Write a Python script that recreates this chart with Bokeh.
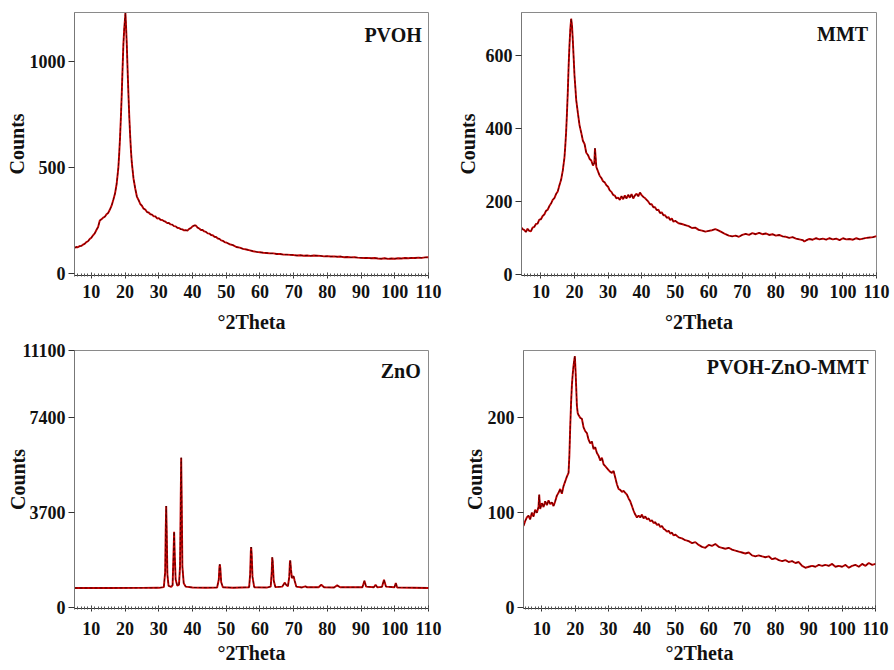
from bokeh.plotting import figure
from bokeh.layouts import column, row
from bokeh.models import Range1d, FixedTicker, SingleIntervalTicker, Label
from bokeh.embed import file_html
from bokeh.resources import INLINE

# ---------------- data ----------------
pvoh_2theta = [5, 5.5, 6, 6.5, 7, 7.5, 8, 8.5, 9, 9.5, 10, 10.5, 11, 11.5, 12, 12.5, 13, 13.5, 14, 14.5,
               15, 15.5, 16, 16.5, 17, 17.5, 18, 18.25, 18.5, 18.75, 19, 19.25, 19.5, 19.75, 20, 20.1,
               20.25, 20.5, 20.75, 21, 21.25, 21.5, 21.75, 22, 22.5, 23, 23.5, 24, 24.5, 25, 25.5, 26,
               26.5, 27, 27.5, 28, 28.5, 29, 29.5, 30, 30.5, 31, 31.5, 32, 32.5, 33, 33.5, 34, 34.5, 35,
               35.5, 36, 36.5, 37, 37.5, 38, 38.5, 39, 39.5, 40, 40.5, 41, 41.5, 42, 42.5, 43, 43.5, 44,
               44.5, 45, 45.5, 46, 46.5, 47, 47.5, 48, 48.5, 49, 49.5, 50, 51, 52, 53, 54, 55, 56, 57,
               58, 59, 60, 61, 62, 63, 64, 65, 66, 67, 68, 69, 70, 71, 72, 73, 74, 75, 76, 77, 78, 79,
               80, 81, 82, 83, 84, 85, 86, 87, 88, 89, 90, 91, 92, 93, 94, 95, 96, 97, 98, 99, 100, 101,
               102, 103, 104, 105, 106, 107, 108, 109, 110]
pvoh_counts = [122, 126, 125, 130, 131, 137, 141, 149, 153, 163, 169, 181, 190, 206, 220, 250, 256, 264, 268, 280,
               286, 302, 320, 347, 376, 422, 498, 562, 638, 732, 838, 962, 1078, 1152, 1202, 1225,
               1178, 1082, 958, 842, 738, 652, 578, 522, 448, 402, 363, 347, 328, 320, 306, 302,
               290, 288, 280, 278, 270, 270, 260, 262, 254, 253, 248, 245, 238, 239, 232, 231, 224, 223,
               216, 215, 210, 209, 204, 205, 203, 211, 215, 223, 227, 227, 217, 213, 206, 206, 199, 197,
               190, 189, 182, 181, 174, 173, 166, 164, 157, 155, 149, 147, 139, 135, 126, 123, 117, 114, 110,
               106, 103, 101, 99, 98, 96, 96, 93, 93, 90, 90, 89, 88, 86, 87, 85, 86, 84, 86, 85, 84, 82,
               83, 81, 82, 80, 81, 78, 79, 77, 78, 76, 75, 74, 75, 73, 74, 72, 71, 73, 70, 72, 71, 73,
               72, 74, 73, 75, 74, 76, 75, 77, 78]

mmt_2theta = [4.2, 4.5, 5, 5.5, 6, 6.5, 7, 7.5, 8, 8.5,
              9, 9.5, 10, 10.5, 11, 11.5, 12, 12.5, 13, 13.5,
              14, 14.5, 15, 15.5, 16, 16.5, 17, 17.25, 17.5, 17.75,
              18, 18.25, 18.5, 18.75, 19, 19.25, 19.5, 19.75, 20, 20.25,
              20.5, 21, 21.5, 22, 22.5, 23, 23.5, 24, 24.5, 25,
              25.5, 25.9, 26.1, 26.5, 27, 27.5, 28, 28.5, 29, 29.5,
              30, 30.5, 31, 31.5, 32, 32.5, 33, 33.5, 34, 34.5,
              35, 35.5, 36, 36.5, 37, 37.5, 38, 38.5, 39, 39.5,
              40, 40.5, 41, 41.5, 42, 42.5, 43, 43.5, 44, 44.5,
              45, 45.5, 46, 46.5, 47, 47.5, 48, 48.5, 49, 49.5,
              50, 51, 52, 53, 54, 55, 56, 57, 58, 59,
              60, 61, 62, 63, 64, 65, 66, 67, 68, 69,
              70, 71, 72, 73, 74, 75, 76, 77, 78, 79,
              80, 81, 82, 83, 84, 85, 86, 87, 88, 88.5,
              89, 90, 91, 92, 93, 94, 95, 96, 97, 98,
              99, 100, 101, 102, 103, 104, 105, 106, 107, 108,
              109, 110]
mmt_counts = [128, 124, 122, 116, 125, 119, 118, 128, 130, 138,
              139, 150, 151, 160, 164, 174, 177, 187, 194, 204,
              209, 220, 227, 244, 259, 284, 320, 352, 390, 442,
              500, 572, 628, 672, 700, 682, 640, 592, 544, 512,
              478, 442, 408, 388, 366, 357, 333, 327, 316, 312,
              298, 305, 345, 294, 282, 270, 264, 255, 252, 244,
              240, 230, 226, 218, 216, 208, 210, 204, 214, 206,
              216, 208, 218, 210, 220, 208, 216, 221, 214, 224,
              217, 212, 209, 204, 199, 192, 192, 184, 184, 176,
              177, 168, 170, 162, 162, 155, 157, 149, 153, 144,
              147, 140, 138, 135, 132, 127, 128, 122, 120, 117,
              119, 121, 124, 120, 115, 110, 106, 104, 106, 103,
              108, 111, 108, 113, 110, 114, 110, 112, 108, 110,
              106, 108, 104, 103, 100, 102, 98, 96, 94, 90,
              93, 97, 95, 99, 96, 98, 95, 99, 96, 98,
              94, 99, 96, 97, 95, 99, 96, 98, 100, 101,
              102, 105]

zno_2theta = [5, 15, 25, 30, 31.5, 31.9, 32.05, 32.2, 32.35, 32.55,
              32.9, 33.7, 34.1, 34.35, 34.55, 34.75, 35.0, 35.5, 36.0, 36.3,
              36.5, 36.65, 36.8, 37.0, 37.4, 38.0, 40, 44, 47.3, 47.8,
              48.0, 48.1, 48.25, 48.5, 49, 52, 56.8, 57.1, 57.3, 57.4,
              57.55, 57.8, 58.3, 62, 63.2, 63.5, 63.65, 63.8, 64.1, 64.6,
              66.6, 67.2, 67.4, 67.7, 68.3, 68.7, 68.9, 69.0, 69.2, 69.5,
              69.8, 70.0, 70.3, 70.8, 72.5, 73.2, 73.5, 73.9, 77.4, 78.2,
              79.0, 82.0, 82.9, 83.8, 90.4, 91.0, 91.5, 93.8, 94.3, 94.8,
              96.2, 96.8, 97.4, 99.9, 100.3, 100.7, 110]
zno_counts = [768, 770, 772, 775, 800, 1400, 3000, 3960, 3000, 1300,
              850, 810, 880, 2000, 2960, 2000, 1100, 860, 900, 1600,
              4200, 5840, 4200, 1600, 950, 820, 790, 780, 790, 1100,
              1600, 1690, 1550, 1000, 800, 780, 800, 1300, 2200, 2360,
              2100, 1200, 800, 785, 820, 1400, 1960, 1800, 1050, 800,
              820, 940, 980, 900, 830, 1200, 1800, 1840, 1500, 1150,
              1210, 1220, 1050, 820, 790, 820, 830, 800, 795, 895,
              800, 790, 870, 795, 800, 1050, 820, 800, 895, 800,
              810, 1090, 820, 800, 960, 790, 770]

comp_2theta = [4.5, 5, 5.5, 6, 6.5, 7, 7.5, 8, 8.5, 9, 9.2, 9.5, 10, 10.5, 11, 11.5, 12, 12.5, 13, 13.5, 14,
               14.5, 15, 15.5, 16, 16.5, 17, 17.5, 18, 18.25, 18.5, 18.75, 19, 19.25, 19.5, 19.75, 19.9,
               20.1, 20.3, 20.5, 20.75, 21, 21.5, 22, 22.5, 23, 23.5, 24, 24.5, 25, 25.5, 26, 26.5, 27,
               27.5, 28, 28.5, 29, 29.5, 30, 30.5, 31, 31.5, 32, 32.5, 33, 33.5, 34, 34.5, 35, 35.5, 36,
               36.5, 37, 37.5, 38, 38.5, 39, 39.5, 40, 40.5, 41, 41.5, 42, 42.5, 43, 43.5, 44, 44.5, 45,
               45.5, 46, 46.5, 47, 47.5, 48, 48.5, 49, 49.5, 50, 51, 52, 53, 54, 55, 56, 57, 58, 59, 60,
               61, 62, 63, 64, 65, 66, 67, 68, 69, 70, 71, 72, 73, 74, 75, 76, 77, 78, 79, 80, 81, 82,
               83, 84, 85, 86, 87, 88, 89, 90, 91, 92, 93, 94, 95, 96, 97, 98, 99, 100, 101, 102, 103,
               104, 105, 106, 107, 108, 109, 110]
comp_counts = [86, 91, 95, 97, 93, 100, 96, 103, 100, 106, 119, 104, 110, 106, 112, 108, 113, 109, 111, 107, 112,
               118, 121, 125, 120, 128, 133, 138, 142, 160, 190, 215, 234, 246, 255, 262, 265,
               250, 232, 213, 205, 203, 200, 199, 190, 186, 184, 177, 173, 175, 167, 169, 163, 160,
               155, 158, 151, 149, 147, 145, 143, 142, 144, 137, 130, 125, 124, 122, 123, 121, 119, 115,
               112, 107, 102, 98, 95, 97, 95, 98, 94, 96, 93, 94, 91, 92, 89, 90, 87, 88,
               85, 86, 83, 82, 80, 81, 78, 79, 76, 77, 74, 73, 71, 70, 68, 69, 66, 64, 63, 66,
               65, 67, 64, 63, 62, 63, 61, 60, 59, 58, 57, 58, 55, 54, 55, 54, 53, 54, 51, 52, 50, 49,
               50, 48, 49, 47, 48, 44, 42, 43, 44, 43, 45, 44, 45, 44, 46, 43, 44, 43, 45, 42, 44,
               45, 43, 46, 44, 47, 45, 46]

pvoh_yticks = [0, 500, 1000]
mmt_yticks = [0, 200, 400, 600]
zno_yticks = [0, 3700, 7400, 10000]
zno_ytick_labels = {10000: "11100"}
comp_yticks = [0, 100, 200]

FONT = "Liberation Serif"
RED = "#c40000"
DARK = "#1c0000"


def make_panel(xs, ys, xr, yr, yticks, title, tx, ty, w, h, bl, br, bt, bb,
               ylab_standoff, xlab_standoff, xtick_standoff, overrides=None):
    p = figure(width=w, height=h, x_range=Range1d(*xr), y_range=Range1d(*yr),
               output_backend="svg", toolbar_location=None,
               min_border_left=bl, min_border_right=br, min_border_top=bt, min_border_bottom=bb)
    p.outline_line_color = "#8a8a8a"
    p.outline_line_width = 1
    p.xgrid.visible = False
    p.ygrid.visible = False
    p.background_fill_color = "white"
    p.border_fill_color = "white"

    xa = p.xaxis[0]
    xa.ticker = SingleIntervalTicker(interval=10, num_minor_ticks=10)
    xa.axis_label = "°2Theta"
    xa.axis_label_text_font = FONT
    xa.axis_label_text_font_style = "bold"
    xa.axis_label_text_font_size = "20px"
    xa.axis_label_text_color = "#111111"
    xa.axis_label_standoff = xlab_standoff
    xa.major_label_text_font = FONT
    xa.major_label_text_font_style = "bold"
    xa.major_label_text_font_size = "18px"
    xa.major_label_text_color = "#111111"
    xa.major_label_standoff = xtick_standoff
    xa.major_tick_in = 3
    xa.major_tick_out = 3
    xa.minor_tick_in = 2
    xa.minor_tick_out = 1
    xa.axis_line_color = "#333333"
    xa.major_tick_line_color = "#333333"
    xa.minor_tick_line_color = "#555555"

    ya = p.yaxis[0]
    ya.ticker = FixedTicker(ticks=yticks)
    if overrides:
        ya.major_label_overrides = overrides
    ya.axis_label = "Counts"
    ya.axis_label_text_font = FONT
    ya.axis_label_text_font_style = "bold"
    ya.axis_label_text_font_size = "20px"
    ya.axis_label_text_color = "#111111"
    ya.axis_label_standoff = ylab_standoff
    ya.major_label_text_font = FONT
    ya.major_label_text_font_style = "bold"
    ya.major_label_text_font_size = "18px"
    ya.major_label_text_color = "#111111"
    ya.major_label_standoff = 3
    ya.major_tick_in = 0
    ya.major_tick_out = 6
    ya.minor_tick_line_color = None
    ya.axis_line_color = "#777777"
    ya.major_tick_line_color = "#333333"

    p.line(xs, ys, line_color=RED, line_width=1.9)
    p.line(xs, ys, line_color=DARK, line_width=0.8, line_dash="3 2", line_alpha=0.85)

    p.add_layout(Label(x=tx, y=ty, text=title, text_align="right", text_baseline="top",
                       text_font=FONT, text_font_style="bold", text_font_size="20px",
                       text_color="#111111"))
    return p


p1 = make_panel(pvoh_2theta, pvoh_counts, (5, 110), (-8, 1228), pvoh_yticks, "PVOH",
                108, 1176, 447, 335, 74, 19, 12, 60, -1, 10, 6)
p2 = make_panel(mmt_2theta, mmt_counts, (4.2, 110), (-3, 717), mmt_yticks, "MMT",
                107.5, 687, 445, 335, 74, 16, 12, 60, 4, 10, 6)
p3 = make_panel(zno_2theta, zno_counts, (5, 110), (-30, 10013), zno_yticks, "ZnO",
                107.7, 9630, 447, 333, 74, 19, 15, 60, -10, 4, 10, zno_ytick_labels)
p4 = make_panel(comp_2theta, comp_counts, (4.5, 110), (-1, 271), comp_yticks, "PVOH-ZnO-MMT",
                107.9, 265, 445, 333, 76, 17, 15, 60, -1, 4, 10)

layout = column(row(p1, p2), row(p3, p4))
open("out.html", "w").write(file_html(layout, INLINE))
